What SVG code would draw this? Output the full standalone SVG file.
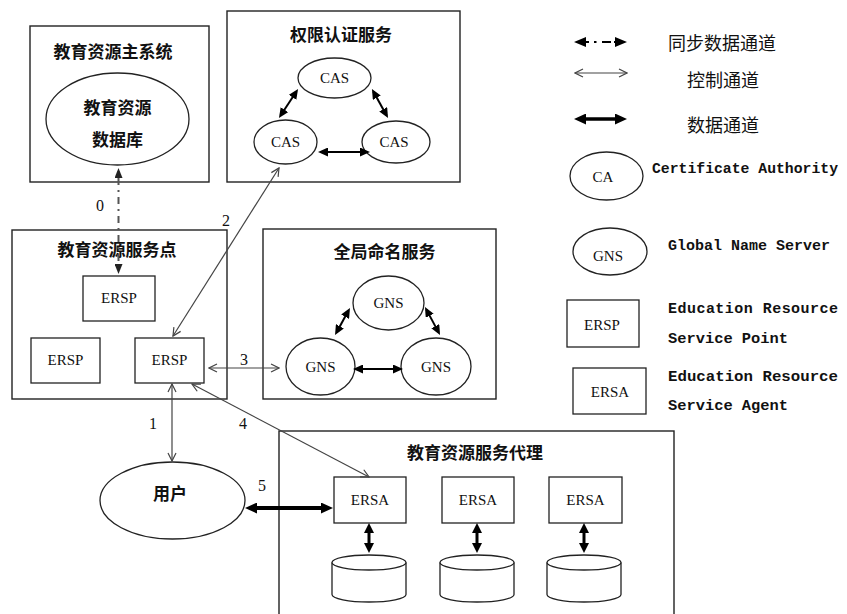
<svg xmlns="http://www.w3.org/2000/svg" width="847" height="614" viewBox="0 0 847 614">
<defs>
<style>
.box{fill:none;stroke:#222;stroke-width:1.4}
.node{fill:#fff;stroke:#222;stroke-width:1.3}
.t{font-family:"Noto Sans CJK SC",sans-serif;font-weight:bold;font-size:17px;text-anchor:middle;fill:#111}
.lbl{font-family:"Liberation Serif",serif;font-size:15px;text-anchor:middle;fill:#111}
.num{font-family:"Liberation Serif",serif;font-size:16px;text-anchor:middle;fill:#111}
.leg{font-family:"Liberation Mono",monospace;font-weight:bold;font-size:15px;fill:#111}
.legc{font-family:"Noto Sans CJK SC",sans-serif;font-size:18px;fill:#111}
.thin{fill:none;stroke:#444;stroke-width:1.2;marker-start:url(#oa);marker-end:url(#oa)}
.data{fill:none;stroke:#000;stroke-width:2;marker-start:url(#fs);marker-end:url(#fs)}
</style>
<marker id="fa" viewBox="0 0 12 11" markerWidth="12" markerHeight="11" refX="7" refY="5.5" orient="auto-start-reverse" markerUnits="userSpaceOnUse"><path d="M0,0 L12,5.5 L0,11 z" fill="#000"/></marker>
<marker id="fs" viewBox="0 0 10 9" markerWidth="10" markerHeight="9" refX="7" refY="4.5" orient="auto-start-reverse" markerUnits="userSpaceOnUse"><path d="M0,0 L10,4.5 L0,9 z" fill="#000"/></marker>
<marker id="fv" viewBox="0 0 10 10" markerWidth="10" markerHeight="10" refX="6" refY="5" orient="auto-start-reverse" markerUnits="userSpaceOnUse"><path d="M0,0 L10,5 L0,10 z" fill="#000"/></marker>
<marker id="ga" viewBox="0 0 10 8" markerWidth="10" markerHeight="8" refX="7" refY="4" orient="auto-start-reverse" markerUnits="userSpaceOnUse"><path d="M0,0 L10,4 L0,8 z" fill="#222"/></marker>
<marker id="oa" viewBox="0 0 10 10" markerWidth="10" markerHeight="10" refX="9" refY="5" orient="auto-start-reverse" markerUnits="userSpaceOnUse"><path d="M1,1 L9,5 L1,9" fill="none" stroke="#444" stroke-width="1.2"/></marker>
</defs>
<rect width="847" height="614" fill="#fff"/>

<g id="main-system">
<rect class="box" x="30" y="26" width="179" height="156"/>
<text class="t" x="113" y="58">教育资源主系统</text>
<ellipse class="node" cx="117.5" cy="119" rx="71.5" ry="46"/>
<text class="t" x="117.5" y="114" font-size="18">教育资源</text>
<text class="t" x="117.5" y="146" font-size="18">数据库</text>
</g>

<g id="auth-service">
<rect class="box" x="227" y="11" width="233" height="171"/>
<text class="t" x="341" y="41">权限认证服务</text>
<g id="cas-top"><ellipse class="node" cx="334.5" cy="78" rx="36.5" ry="20"/><text class="lbl" x="334.5" y="83">CAS</text></g>
<g id="cas-left"><ellipse class="node" cx="285.5" cy="142" rx="31.5" ry="22"/><text class="lbl" x="285.5" y="147">CAS</text></g>
<g id="cas-right"><ellipse class="node" cx="396" cy="142" rx="34" ry="21"/><text class="lbl" x="394" y="147">CAS</text></g>
</g>

<g id="service-point">
<rect class="box" x="12" y="230" width="215" height="169"/>
<text class="t" x="117" y="256">教育资源服务点</text>
<g id="ersp-top"><rect class="node" x="83" y="276" width="72" height="45"/><text class="lbl" x="119" y="303">ERSP</text></g>
<g id="ersp-left"><rect class="node" x="31" y="338" width="69" height="45"/><text class="lbl" x="65.5" y="365">ERSP</text></g>
<g id="ersp-right"><rect class="node" x="135" y="338" width="69" height="45"/><text class="lbl" x="169.5" y="365">ERSP</text></g>
</g>

<g id="naming-service">
<rect class="box" x="263" y="229" width="233" height="170"/>
<text class="t" x="384.5" y="258">全局命名服务</text>
<g id="gns-top"><ellipse class="node" cx="388.5" cy="303" rx="35.5" ry="27"/><text class="lbl" x="388.5" y="308">GNS</text></g>
<g id="gns-left"><ellipse class="node" cx="320.5" cy="366.5" rx="34.5" ry="28.5"/><text class="lbl" x="320.5" y="372">GNS</text></g>
<g id="gns-right"><ellipse class="node" cx="436" cy="366.5" rx="35" ry="28.5"/><text class="lbl" x="436" y="372">GNS</text></g>
</g>

<g id="user">
<ellipse class="node" cx="172.5" cy="500.5" rx="72.5" ry="38.5"/>
<text class="t" x="170" y="500" font-size="20">用户</text>
</g>

<g id="agent-service">
<rect class="box" x="279" y="431" width="395" height="200"/>
<text class="t" x="475" y="459">教育资源服务代理</text>
<g id="ersa-1"><rect class="node" x="334" y="477" width="72" height="46"/><text class="lbl" x="370" y="505">ERSA</text></g>
<g id="ersa-2"><rect class="node" x="442" y="477" width="72" height="46"/><text class="lbl" x="478" y="505">ERSA</text></g>
<g id="ersa-3"><rect class="node" x="549" y="477" width="73" height="46"/><text class="lbl" x="585.5" y="505">ERSA</text></g>
<g id="db-1"><path class="node" d="M332,562.5 V594.5 A37,7.5 0 0 0 406,594.5 V562.5"/><ellipse class="node" cx="369" cy="562.5" rx="37" ry="7.5"/></g>
<g id="db-2"><path class="node" d="M440,562.5 V594.5 A37,7.5 0 0 0 514,594.5 V562.5"/><ellipse class="node" cx="477" cy="562.5" rx="37" ry="7.5"/></g>
<g id="db-3"><path class="node" d="M547,562.5 V594.5 A37,7.5 0 0 0 621,594.5 V562.5"/><ellipse class="node" cx="584" cy="562.5" rx="37" ry="7.5"/></g>
</g>

<g id="connectors">
<line x1="118.5" y1="171" x2="118.5" y2="271" stroke="#555" stroke-width="2" stroke-dasharray="2 5 7 5" marker-start="url(#ga)" marker-end="url(#ga)"/>
<line class="thin" x1="279" y1="168" x2="173" y2="336"/>
<line class="thin" x1="209" y1="368" x2="279" y2="368"/>
<line class="thin" x1="172" y1="384" x2="172" y2="461"/>
<line class="thin" x1="192" y1="384" x2="369" y2="477"/>
<line x1="250" y1="508" x2="328" y2="508" stroke="#000" stroke-width="4" marker-start="url(#fa)" marker-end="url(#fa)"/>
<line class="data" x1="280.6" y1="115.5" x2="296.4" y2="91.5"/>
<line class="data" x1="373.4" y1="91.6" x2="386.6" y2="115.4"/>
<line class="data" x1="321" y1="152" x2="367" y2="152"/>
<line class="data" x1="336.5" y1="332.4" x2="348.5" y2="310.6"/>
<line class="data" x1="426.4" y1="309.6" x2="438.6" y2="332.4"/>
<line class="data" x1="356" y1="369" x2="400" y2="369"/>
<line x1="369" y1="527" x2="369" y2="549" stroke="#000" stroke-width="3" marker-start="url(#fv)" marker-end="url(#fv)"/>
<line x1="477" y1="527" x2="477" y2="549" stroke="#000" stroke-width="3" marker-start="url(#fv)" marker-end="url(#fv)"/>
<line x1="584" y1="527" x2="584" y2="549" stroke="#000" stroke-width="3" marker-start="url(#fv)" marker-end="url(#fv)"/>
<text class="num" x="100" y="211">0</text>
<text class="num" x="226" y="226">2</text>
<text class="num" x="244" y="365">3</text>
<text class="num" x="153" y="429">1</text>
<text class="num" x="243" y="429">4</text>
<text class="num" x="262" y="491">5</text>
</g>

<g id="legend">
<path d="M574,42 L586,37 L586,47 z M627,42 L615,37 L615,47 z" fill="#000"/>
<path d="M586,42 H589 M594,42 H596.5 M602,42 H611 M614,42 H615" stroke="#000" stroke-width="2" fill="none"/>
<text class="legc" x="668" y="50">同步数据通道</text>
<line class="thin" x1="575" y1="73" x2="627" y2="73"/>
<text class="legc" x="687" y="87">控制通道</text>
<line x1="579" y1="119" x2="622" y2="119" stroke="#000" stroke-width="3.5" marker-start="url(#fa)" marker-end="url(#fa)"/>
<text class="legc" x="687" y="132">数据通道</text>
<g id="legend-ca"><ellipse class="node" cx="606.5" cy="176" rx="36.5" ry="24"/><text class="lbl" x="603" y="182">CA</text></g>
<text class="leg" x="652" y="173" textLength="186" lengthAdjust="spacingAndGlyphs">Certificate Authority</text>
<g id="legend-gns"><ellipse class="node" cx="610" cy="251.5" rx="37" ry="23.5"/><text class="lbl" x="608" y="261">GNS</text></g>
<text class="leg" x="668" y="250" textLength="162" lengthAdjust="spacingAndGlyphs">Global Name Server</text>
<g id="legend-ersp"><rect class="node" x="567" y="300" width="72" height="47"/><text class="lbl" x="602" y="330">ERSP</text></g>
<text class="leg" x="668" y="313" textLength="170" lengthAdjust="spacing">Education Resource</text>
<text class="leg" x="668" y="343" textLength="120" lengthAdjust="spacingAndGlyphs">Service Point</text>
<g id="legend-ersa"><rect class="node" x="573" y="368" width="73" height="46"/><text class="lbl" x="610" y="397">ERSA</text></g>
<text class="leg" x="668" y="381" textLength="170" lengthAdjust="spacingAndGlyphs">Education Resource</text>
<text class="leg" x="668" y="410" textLength="120" lengthAdjust="spacingAndGlyphs">Service Agent</text>
</g>
</svg>
